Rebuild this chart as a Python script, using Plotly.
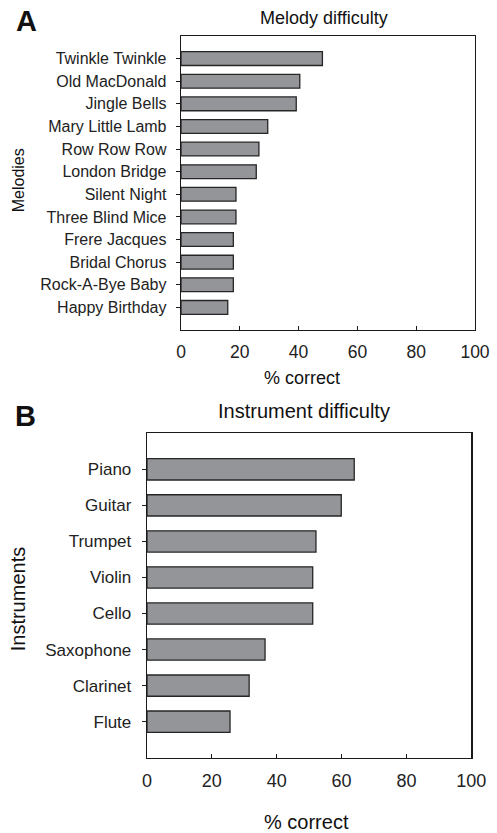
import plotly.graph_objects as go

W, H = 497, 833

melodies = ["Twinkle Twinkle", "Old MacDonald", "Jingle Bells", "Mary Little Lamb",
            "Row Row Row", "London Bridge", "Silent Night", "Three Blind Mice",
            "Frere Jacques", "Bridal Chorus", "Rock-A-Bye Baby", "Happy Birthday"]
melody_pct = [48.1, 40.4, 39.2, 29.5, 26.5, 25.6, 18.7, 18.7, 17.8, 17.8, 17.8, 15.9]

instruments = ["Piano", "Guitar", "Trumpet", "Violin", "Cello", "Saxophone", "Clarinet", "Flute"]
instrument_pct = [63.9, 59.9, 52.1, 51.1, 51.1, 36.4, 31.5, 25.6]

x_ticks = [0, 20, 40, 60, 80, 100]

FONT = "Liberation Sans, Arial, Helvetica, sans-serif"
BAR = "#939598"
EDGE = "#262626"
AX = "#1a1a1a"


def px(x):
    return x / W


def py(y):
    return 1 - y / H


fig = go.Figure()
fig.add_trace(go.Bar(x=melody_pct, y=melodies, orientation="h", width=0.61,
                     marker=dict(color=BAR, line=dict(color=EDGE, width=1.3)),
                     xaxis="x", yaxis="y", showlegend=False))
fig.add_trace(go.Bar(x=instrument_pct, y=instruments, orientation="h", width=0.59,
                     marker=dict(color=BAR, line=dict(color=EDGE, width=1.3)),
                     xaxis="x2", yaxis="y2", showlegend=False))

common_x = dict(range=[0, 100], tickvals=x_ticks, ticks="inside", ticklen=4,
                tickcolor=AX, showline=True, linecolor=AX, linewidth=1.3,
                mirror=True, showgrid=False, zeroline=False, fixedrange=True,
                automargin=False)
common_y = dict(type="category", ticks="outside", ticklen=4, tickcolor=AX,
                showline=True, linecolor=AX, linewidth=1.3, mirror=True,
                showgrid=False, zeroline=False, fixedrange=True, automargin=False)

fig.update_layout(
    template="simple_white",
    autosize=False,
    width=W, height=H,
    margin=dict(l=0, r=0, t=0, b=0, pad=0, autoexpand=False),
    paper_bgcolor="white", plot_bgcolor="white",
    font=dict(family=FONT, color="#222"),
    bargap=0,
    xaxis=dict(domain=[px(181), px(475)], anchor="y",
               tickfont=dict(size=17.5, family=FONT, color="#222"),
               ticklabelstandoff=6, **common_x),
    yaxis=dict(domain=[py(330), py(36)], anchor="x",
               categoryorder="array", categoryarray=melodies,
               range=[len(melodies), -1],
               tickfont=dict(size=16, family=FONT, color="#222"),
               ticklabelstandoff=6, **common_y),
    xaxis2=dict(domain=[px(147), px(471.3)], anchor="y2",
                tickfont=dict(size=18, family=FONT, color="#222"),
                ticklabelstandoff=6, **common_x),
    yaxis2=dict(domain=[py(757.7), py(433.3)], anchor="x2",
                categoryorder="array", categoryarray=instruments,
                range=[len(instruments), -1],
                tickfont=dict(size=17, family=FONT, color="#222"),
                ticklabelstandoff=7, **common_y),
)

ann = [
    dict(text="<b>A</b>", x=px(26), y=py(21), size=29),
    dict(text="<b>B</b>", x=px(25), y=py(415.5), size=29),
    dict(text="Melody difficulty", x=px(323.5), y=py(18), size=18),
    dict(text="Instrument difficulty", x=px(303.8), y=py(411), size=20),
    dict(text="% correct", x=px(301.7), y=py(378), size=18),
    dict(text="% correct", x=px(306.7), y=py(821.5), size=20),
    dict(text="Melodies", x=px(18.3), y=py(180), size=16, angle=-90),
    dict(text="Instruments", x=px(18.3), y=py(599), size=20, angle=-90),
]
for a in ann:
    fig.add_annotation(text=a["text"], x=a["x"], y=a["y"], xref="paper", yref="paper",
                       xanchor="center", yanchor="middle", showarrow=False,
                       textangle=a.get("angle", 0),
                       font=dict(family=FONT, size=a["size"], color="#111"))

fig.write_html("out.html", config={"displayModeBar": False, "responsive": False,
                                    "staticPlot": True})

# remove the browser's default page margin so the figure sits at the window's origin
with open("out.html", "r", encoding="utf-8") as f:
    html = f.read()
html = html.replace("<head>", "<head><style>html,body{margin:0;padding:0;overflow:hidden;}</style>", 1)
with open("out.html", "w", encoding="utf-8") as f:
    f.write(html)
